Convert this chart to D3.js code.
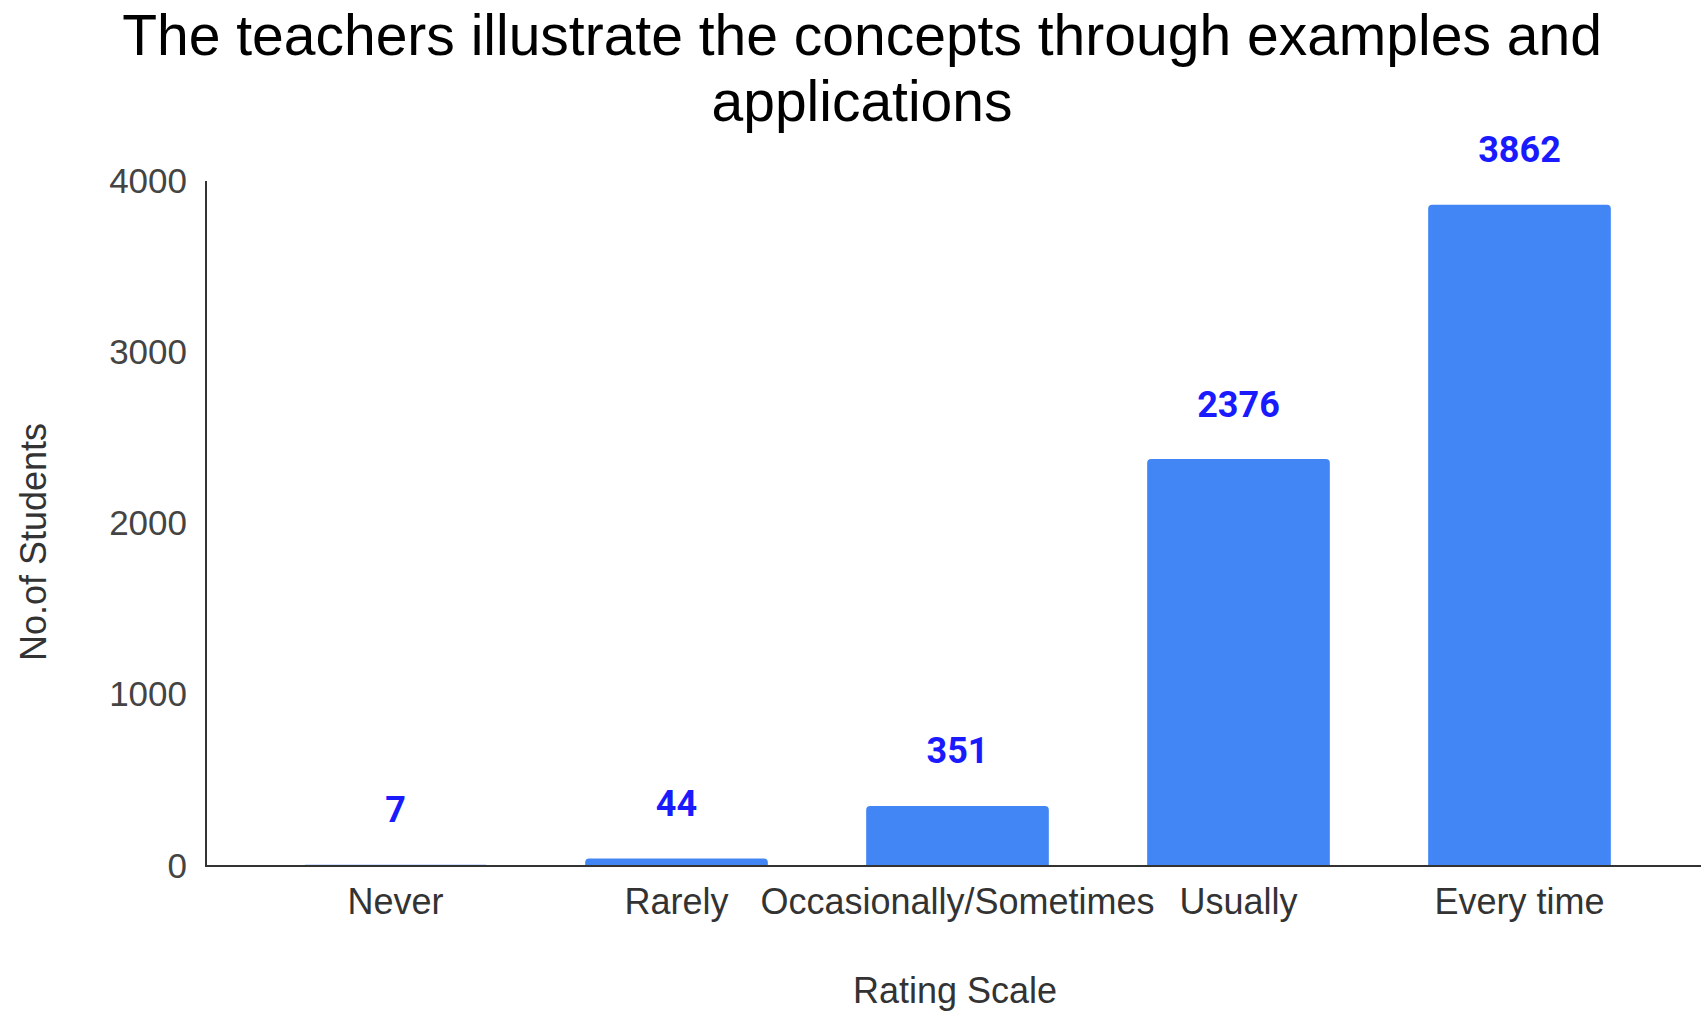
<!DOCTYPE html>
<html>
<head>
<meta charset="utf-8">
<script src="https://cdn.jsdelivr.net/npm/d3@7"></script>
<style>
  body { margin: 0; background: #fff; }
  svg { display: block; }
</style>
</head>
<body>
<div id="chart"></div>
<script>
// Data
const categories = ["Never", "Rarely", "Occasionally/Sometimes", "Usually", "Every time"];
const counts = [7, 44, 351, 2376, 3862];
const yTicks = [0, 1000, 2000, 3000, 4000];
const titleLines = ["The teachers illustrate the concepts through examples and", "applications"];

const width = 1701, height = 1012;
const axisLeft = 206, baseline = 866, yTop = 181;

const svg = d3.select("#chart").append("svg")
  .attr("width", width)
  .attr("height", height);

const x = d3.scaleBand()
  .domain(categories)
  .range([255, 1660])
  .paddingInner(0.35)
  .paddingOuter(0.175);

const y = d3.scaleLinear()
  .domain([0, 4000])
  .range([baseline, yTop]);

// Title (two lines, kept apart so they do not touch)
svg.append("g").selectAll("text")
  .data(titleLines)
  .join("text")
  .attr("x", 862)
  .attr("y", (d, i) => 35 + i * 66)
  .attr("dy", "0.35em")
  .attr("text-anchor", "middle")
  .attr("font-family", "Liberation Sans, Arial, sans-serif")
  .attr("font-size", 57)
  .attr("fill", "#000")
  .text(d => d);

// Bars with rounded top corners
const r = 4;
svg.append("g").selectAll("path")
  .data(counts)
  .join("path")
  .attr("fill", "#4285f4")
  .attr("d", (d, i) => {
    const x0 = x(categories[i]), w = x.bandwidth();
    const y0 = y(d), h = baseline - y0;
    const rr = Math.min(r, h);
    if (h <= 0) return "";
    return `M${x0},${baseline}V${y0 + rr}Q${x0},${y0} ${x0 + rr},${y0}H${x0 + w - rr}Q${x0 + w},${y0} ${x0 + w},${y0 + rr}V${baseline}Z`;
  });

// Value labels
svg.append("g").selectAll("text")
  .data(counts)
  .join("text")
  .attr("x", (d, i) => x(categories[i]) + x.bandwidth() / 2)
  .attr("y", d => y(d) - 55)
  .attr("dy", "0.35em")
  .attr("text-anchor", "middle")
  .attr("font-family", "Roboto, sans-serif")
  .attr("font-weight", "bold")
  .attr("font-size", 36)
  .attr("fill", "#1a1aff")
  .text(d => d);

// Y axis
const yAxis = d3.axisLeft(y).tickValues(yTicks).tickFormat(d3.format("d")).tickSize(0).tickPadding(19);
const yg = svg.append("g")
  .attr("transform", `translate(${axisLeft},0)`)
  .call(yAxis);
yg.select(".domain").remove();
yg.selectAll("text")
  .attr("font-family", "Liberation Sans, Arial, sans-serif")
  .attr("font-size", 35)
  .attr("fill", "#444");

svg.append("line")
  .attr("x1", axisLeft).attr("x2", axisLeft)
  .attr("y1", yTop).attr("y2", baseline)
  .attr("stroke", "#333").attr("stroke-width", 2);

// X axis
const xAxis = d3.axisBottom(x).tickSize(0).tickPadding(22);
const xg = svg.append("g")
  .attr("transform", `translate(0,${baseline})`)
  .call(xAxis);
xg.select(".domain").remove();
xg.selectAll("text")
  .attr("font-family", "Liberation Sans, Arial, sans-serif")
  .attr("font-size", 36)
  .attr("fill", "#333");

svg.append("line")
  .attr("x1", axisLeft - 1).attr("x2", width)
  .attr("y1", baseline).attr("y2", baseline)
  .attr("stroke", "#333").attr("stroke-width", 2);

// Axis titles
svg.append("text")
  .attr("x", 955)
  .attr("y", 990)
  .attr("dy", "0.35em")
  .attr("text-anchor", "middle")
  .attr("font-family", "Liberation Sans, Arial, sans-serif")
  .attr("font-size", 36)
  .attr("fill", "#333")
  .text("Rating Scale");

svg.append("text")
  .attr("transform", "translate(33,542) rotate(-90)")
  .attr("dy", "0.35em")
  .attr("text-anchor", "middle")
  .attr("font-family", "Liberation Sans, Arial, sans-serif")
  .attr("font-size", 36)
  .attr("fill", "#333")
  .text("No.of Students");
</script>
</body>
</html>
